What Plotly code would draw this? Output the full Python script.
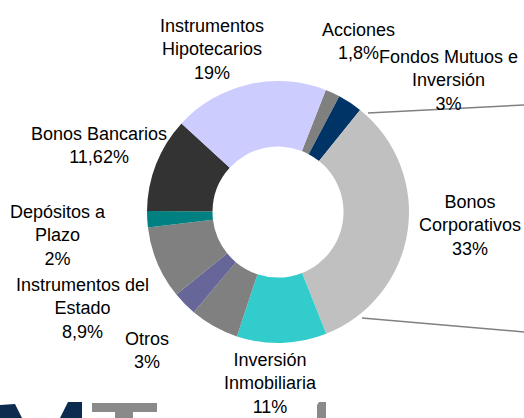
import plotly.graph_objects as go

# ---- data ----
categories = ["Acciones", "Fondos Mutuos e Inversión", "Bonos Corporativos",
              "Inversión Inmobiliaria", "Sin etiqueta", "Otros",
              "Instrumentos del Estado", "Depósitos a Plazo",
              "Bonos Bancarios", "Instrumentos Hipotecarios"]
values = [1.8, 3, 33, 11, 6, 3, 8.9, 2, 11.62, 19]
label_texts = ["Acciones<br>1,8%", "Fondos Mutuos e<br>Inversión<br>3%",
               "Bonos<br>Corporativos<br>33%", "Inversión<br>Inmobiliaria<br>11%",
               "", "Otros<br>3%", "Instrumentos del<br>Estado<br>8,9%",
               "Depósitos a<br>Plazo<br>2%", "Bonos Bancarios<br>11,62%",
               "Instrumentos<br>Hipotecarios<br>19%"]
colors = ["#808080", "#003366", "#C0C0C0", "#33CCCC", "#808080", "#666699",
          "#808080", "#008080", "#333333", "#CCCCFF"]

W, H = 524, 418
def px(x):
    return x / W
def py(y):
    return 1 - y / H

# label block centres (pixels)
label_pos = [(358, 41), (448, 80), (470, 225), (270, 383), None, (147, 350),
             (82, 308), (58, 235), (99, 145), (212, 50)]

cx, cy, r = 278, 212, 131

fig = go.Figure(go.Pie(
    labels=categories, values=values, sort=False, direction="clockwise",
    rotation=21.4, hole=0.5, textinfo="none", hoverinfo="label+percent",
    marker=dict(colors=colors, line=dict(width=0)),
    domain=dict(x=[px(cx - r), px(cx + r)], y=[py(cy + r), py(cy - r)]),
    showlegend=False,
))

annotations = []
for txt, pos in zip(label_texts, label_pos):
    if pos is None or not txt:
        continue
    annotations.append(dict(
        x=px(pos[0]), y=py(pos[1]), xref="paper", yref="paper", text=txt,
        showarrow=False, xanchor="center", yanchor="middle", align="center",
        font=dict(family="Liberation Sans, Arial, sans-serif", size=18, color="#000000"),
    ))

shapes = [
    dict(type="line", xref="paper", yref="paper", x0=px(368), y0=py(113), x1=px(524), y1=py(105),
         line=dict(color="#808080", width=1.5)),
    dict(type="line", xref="paper", yref="paper", x0=px(362), y0=py(318), x1=px(524), y1=py(332),
         line=dict(color="#808080", width=1.5)),
]

# cropped logo fragments at the bottom
def poly(points, color):
    path = "M " + " L ".join(f"{px(x)},{py(y)}" for x, y in points) + " Z"
    return dict(type="path", xref="paper", yref="paper", path=path,
                fillcolor=color, line=dict(width=0))

navy = "#0d2b4e"
grey = "#8a8a8a"
shapes += [
    poly([(0, 405), (15, 404), (22, 418), (0, 418)], navy),
    poly([(68, 402), (82, 402), (82, 418), (60, 418)], navy),
    poly([(92, 403), (157, 403), (157, 412), (92, 412)], grey),
    poly([(115, 412), (133, 412), (133, 418), (115, 418)], grey),
    poly([(319, 402), (326, 402), (326, 418), (317, 418), (317, 405)], grey),
]

fig.update_layout(
    width=W, height=H, margin=dict(l=0, r=0, t=0, b=0),
    paper_bgcolor="white", plot_bgcolor="white",
    annotations=annotations, shapes=shapes,
)

fig.write_html(
    "out.html",
    config={"displayModeBar": False},
    post_script="document.body.style.margin='0';document.body.style.overflow='hidden';",
)
